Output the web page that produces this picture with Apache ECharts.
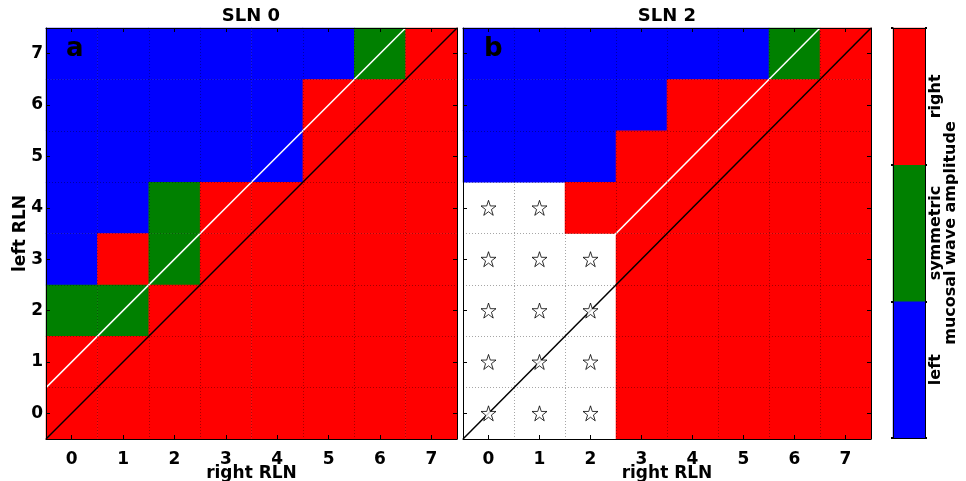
<!DOCTYPE html>
<html>
<head>
<meta charset="utf-8">
<script src="https://cdn.jsdelivr.net/npm/echarts@6/dist/echarts.min.js"></script>
<style>html,body{margin:0;padding:0;background:#fff}#c{width:966px;height:481px}</style>
</head>
<body>
<div id="c"></div>
<script>
// ---- data ----
const rlnTicks = ['0','1','2','3','4','5','6','7'];
const classes = ['left', 'symmetric', 'right'];
// rows from left RLN = 7 (top) down to 0 (bottom); columns right RLN 0..7
// 0 = left, 1 = symmetric, 2 = right, null = no data (star)
const sln0 = [
  [0,0,0,0,0,0,1,2],
  [0,0,0,0,0,2,2,2],
  [0,0,0,0,0,2,2,2],
  [0,0,1,2,2,2,2,2],
  [0,2,1,2,2,2,2,2],
  [1,1,2,2,2,2,2,2],
  [2,2,2,2,2,2,2,2],
  [2,2,2,2,2,2,2,2]
];
const sln2 = [
  [0,0,0,0,0,0,1,2],
  [0,0,0,0,2,2,2,2],
  [0,0,0,2,2,2,2,2],
  [null,null,2,2,2,2,2,2],
  [null,null,null,2,2,2,2,2],
  [null,null,null,2,2,2,2,2],
  [null,null,null,2,2,2,2,2],
  [null,null,null,2,2,2,2,2]
];
const lineEqual = [[-0.5,-0.5],[7.5,7.5]];
const lineOffset = [[-0.5,0.5],[6.5,7.5]];

function toCells(m){
  const out=[];
  m.forEach((row,ri)=>row.forEach((v,ci)=>{ if(v!==null) out.push([ci, m.length-1-ri, v]); }));
  return out;
}
function toStars(m){
  const out=[];
  m.forEach((row,ri)=>row.forEach((v,ci)=>{ if(v===null) out.push([ci, m.length-1-ri]); }));
  return out;
}

const FONT = 'DejaVu Sans';
const STAR = 'path://M50,4 L61,37 L96,37 L68,58 L79,92 L50,71 L21,92 L32,58 L4,37 L39,37 Z';

function panelAxes(gi, showY){
  const lbl = {fontFamily:FONT, fontWeight:'bold', fontSize:17, color:'#000'};
  const axLine = {show:true, onZero:false, lineStyle:{color:'#000', width:1}};
  const tick = {show:true, inside:true, alignWithLabel:true, length:4, lineStyle:{color:'#000'}};
  const split = {show:true, lineStyle:{color:'rgba(0,0,0,0.35)', type:[1,2], width:1}};
  const xs = [
    {type:'category', gridIndex:gi, data:rlnTicks, position:'bottom', z:5,
     axisLine:axLine, axisTick:tick, splitLine:split,
     axisLabel:Object.assign({margin:12}, lbl),
     name:'right RLN', nameLocation:'middle', nameGap:26, nameMoveOverlap:false,
     nameTextStyle:{fontFamily:FONT, fontWeight:'bold', fontSize:17, color:'#000'}},
    {type:'category', gridIndex:gi, data:rlnTicks, position:'top', z:5,
     axisLine:axLine, axisTick:tick, axisLabel:{show:false}},
    {type:'value', gridIndex:gi, min:-0.5, max:7.5, show:false}
  ];
  const ys = [
    {type:'category', gridIndex:gi, data:rlnTicks, position:'left', z:5,
     axisLine:axLine, axisTick:tick, splitLine:split,
     axisLabel:Object.assign({show:showY, margin:3}, lbl),
     name: showY ? 'left RLN' : '', nameLocation:'middle', nameGap:17, nameMoveOverlap:false,
     nameTextStyle:{fontFamily:FONT, fontWeight:'bold', fontSize:17, color:'#000'}},
    {type:'category', gridIndex:gi, data:rlnTicks, position:'right', z:5,
     axisLine:axLine, axisTick:tick, axisLabel:{show:false}},
    {type:'value', gridIndex:gi, min:-0.5, max:7.5, show:false}
  ];
  return {xs, ys};
}
const pa = panelAxes(0, true), pb = panelAxes(1, false);
const cbAxLine = {show:true, onZero:false, lineStyle:{color:'#000', width:1}};
const xAxes = pa.xs.concat(pb.xs).concat([
  {type:'category', gridIndex:2, data:['c'], position:'bottom', z:5, axisLine:cbAxLine, axisTick:{show:false}, axisLabel:{show:false}},
  {type:'category', gridIndex:2, data:['c'], position:'top', z:5, axisLine:cbAxLine, axisTick:{show:false}, axisLabel:{show:false}}
]);
const yAxes = pa.ys.concat(pb.ys).concat([
  {type:'category', gridIndex:2, data:classes, position:'right', z:5, axisLine:cbAxLine,
   axisTick:{show:true, length:2, lineStyle:{color:'#000', width:2}},
   axisLabel:{rotate:90, margin:3, fontFamily:FONT, fontWeight:'bold', fontSize:16, color:'#000'},
   name:'mucosal wave amplitude', nameLocation:'middle', nameRotate:90, nameGap:18, nameMoveOverlap:false,
   nameTextStyle:{fontFamily:FONT, fontWeight:'bold', fontSize:16, color:'#000'}},
  {type:'category', gridIndex:2, data:classes, position:'left', z:5, axisLine:cbAxLine,
   axisTick:{show:true, length:2, lineStyle:{color:'#000', width:2}}, axisLabel:{show:false}}
]);

function panelSeries(base, m){
  const xi = base*3, yi = base*3;
  return [
    {type:'heatmap', xAxisIndex:xi, yAxisIndex:yi, data:toCells(m), z:1, itemStyle:{borderWidth:0}},
    {type:'line', xAxisIndex:xi+2, yAxisIndex:yi+2, data:lineOffset, symbol:'none', z:3,
     lineStyle:{color:'#ffffff', width:1.5}, silent:true},
    {type:'line', xAxisIndex:xi+2, yAxisIndex:yi+2, data:lineEqual, symbol:'none', z:3,
     lineStyle:{color:'#000000', width:1.5}, silent:true}
  ];
}

const series = [].concat(
  panelSeries(0, sln0),
  panelSeries(1, sln2),
  [
    {type:'scatter', xAxisIndex:3, yAxisIndex:3, data:toStars(sln2), symbol:STAR, symbolSize:15, z:4,
     itemStyle:{color:'#ffffff', borderColor:'#000', borderWidth:1}},
    {type:'heatmap', xAxisIndex:6, yAxisIndex:6, data:classes.map((c,i)=>[0,i,i]), z:1}
  ]
);

const option = {
  animation:false,
  backgroundColor:'#ffffff',
  textStyle:{fontFamily:FONT},
  title:[
    {text:'SLN 0', left:251, top:7, textAlign:'center', padding:0, textStyle:{fontFamily:FONT, fontSize:18, fontWeight:'bold', color:'#000'}},
    {text:'SLN 2', left:667, top:7, textAlign:'center', padding:0, textStyle:{fontFamily:FONT, fontSize:18, fontWeight:'bold', color:'#000'}},
    {text:'a', left:66, top:36, padding:0, textStyle:{fontFamily:FONT, fontSize:26, fontWeight:'bold', color:'#000'}},
    {text:'b', left:484, top:36, padding:0, textStyle:{fontFamily:FONT, fontSize:26, fontWeight:'bold', color:'#000'}}
  ],
  grid:[
    {left:46, top:28, width:411, height:411, outerBoundsMode:'none', containLabel:false},
    {left:463, top:28, width:408, height:411, outerBoundsMode:'none', containLabel:false},
    {left:893, top:28, width:32, height:410, outerBoundsMode:'none', containLabel:false}
  ],
  xAxis:xAxes,
  yAxis:yAxes,
  visualMap:{type:'piecewise', show:false, dimension:2, seriesIndex:[0,3,7],
    pieces:[{value:0, color:'#0000ff'},{value:1, color:'#008000'},{value:2, color:'#ff0000'}]},
  series:series
};
const chart = echarts.init(document.getElementById('c'), null, {renderer:'canvas'});
chart.setOption(option);
</script>
</body>
</html>
